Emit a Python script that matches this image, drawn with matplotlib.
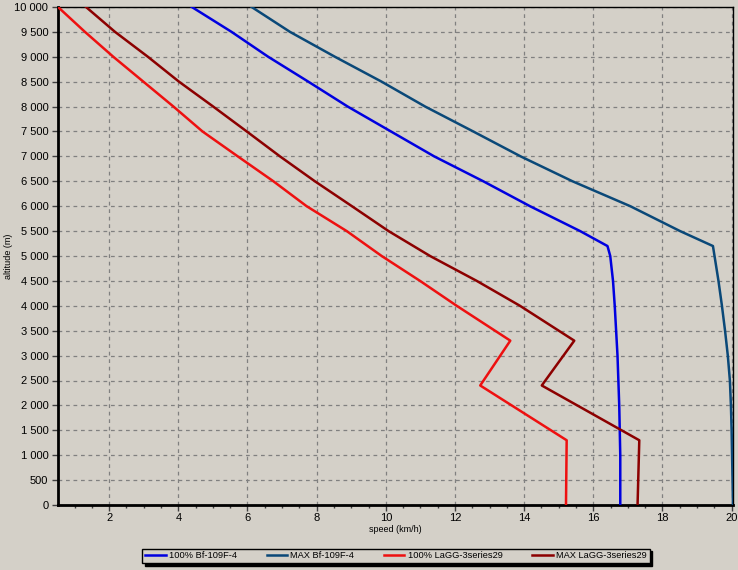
import matplotlib.pyplot as plt
from matplotlib.ticker import MultipleLocator, FuncFormatter

plt.rcParams['font.family'] = ['Liberation Sans', 'DejaVu Sans']

# altitude (m) and speed (km/h)
alt_bf100 = [10000, 9500, 9000, 8500, 8000, 7500, 7000, 6500, 6000, 5500, 5200,
             5000, 4500, 4000, 3000, 2000, 1000, 0]
spd_bf100 = [4.39, 5.54, 6.60, 7.76, 8.90, 10.15, 11.40, 12.82, 14.17, 15.62, 16.41,
             16.49, 16.57, 16.62, 16.70, 16.75, 16.78, 16.78]

alt_bfmax = [10000, 9500, 9000, 8500, 8000, 7500, 7000, 6500, 6000, 5500, 5200,
             4500, 4000, 3500, 3000, 2500, 2000, 1500, 0]
spd_bfmax = [6.12, 7.23, 8.53, 9.88, 11.14, 12.53, 13.90, 15.40, 17.07, 18.51, 19.46,
             19.62, 19.72, 19.81, 19.89, 19.95, 19.98, 20.00, 20.04]

alt_lagg100 = [10000, 9500, 9000, 8500, 8000, 7500, 7000, 6500, 6000, 5500, 5000,
               4500, 4000, 3300, 2400, 1300, 0]
spd_lagg100 = [0.52, 1.30, 2.12, 2.99, 3.86, 4.70, 5.72, 6.75, 7.71, 8.87, 9.88,
               10.99, 12.05, 13.60, 12.73, 15.23, 15.21]

alt_laggmax = [10000, 9500, 9000, 8500, 8000, 7500, 7000, 6500, 6000, 5500, 5000,
               4500, 4000, 3300, 2400, 1300, 0]
spd_laggmax = [1.33, 2.17, 3.12, 4.02, 5.01, 5.98, 6.94, 7.95, 9.02, 10.08, 11.28,
               12.63, 13.88, 15.45, 14.51, 17.33, 17.28]

labels = ['100% Bf-109F-4', 'MAX Bf-109F-4', '100% LaGG-3series29', 'MAX LaGG-3series29']
colors = ['#0000e0', '#0a4878', '#ee1010', '#8c0000']
bg = '#d4d0c8'

fig = plt.figure(figsize=(7.38, 5.70), dpi=100, facecolor=bg)
ax = fig.add_axes([58 / 738, 1 - 505 / 570, 675 / 738, 498 / 570], facecolor=bg)

series = [(spd_bf100, alt_bf100), (spd_bfmax, alt_bfmax),
          (spd_lagg100, alt_lagg100), (spd_laggmax, alt_laggmax)]
for (x, y), lab, c in zip(series, labels, colors):
    ax.plot(x, y, color=c, lw=1.8, label=lab, zorder=3)

ax.set_xlim(0.52, 20.04)
ax.set_ylim(0, 10000)
ax.xaxis.set_major_locator(MultipleLocator(2))
ax.xaxis.set_minor_locator(MultipleLocator(0.5))
ax.yaxis.set_major_locator(MultipleLocator(500))
ax.yaxis.set_major_formatter(FuncFormatter(lambda v, p: f'{int(v):,}'.replace(',', ' ')))

ax.grid(True, which='major', color='#808080', linestyle=(0, (3, 3)), lw=0.9)
ax.tick_params(axis='both', which='major', labelsize=8, length=4, width=1, color='#404040')
ax.tick_params(axis='x', which='minor', length=2.5, width=1, color='#404040')
ax.tick_params(axis='x', pad=2)
ax.tick_params(axis='y', pad=3)

for s in ['left', 'bottom']:
    ax.spines[s].set_linewidth(2)
for s in ['top', 'right']:
    ax.spines[s].set_linewidth(1)

ax.set_xlabel('speed (km/h)', fontsize=6.5, labelpad=1)
ax.set_ylabel('altitude (m)', fontsize=6.5, labelpad=1)

leg = fig.legend(loc='center', bbox_to_anchor=(396 / 738, 1 - 556 / 570), ncol=4,
                 fontsize=6.7, frameon=True, fancybox=False,
                 shadow={'color': 'black', 'alpha': 1},
                 edgecolor='black', facecolor=bg, handlelength=2.2,
                 columnspacing=3.2, borderpad=0.3, handletextpad=0.35)
leg.get_frame().set_linewidth(1)

fig.savefig('out.png', dpi=100, facecolor=bg)
